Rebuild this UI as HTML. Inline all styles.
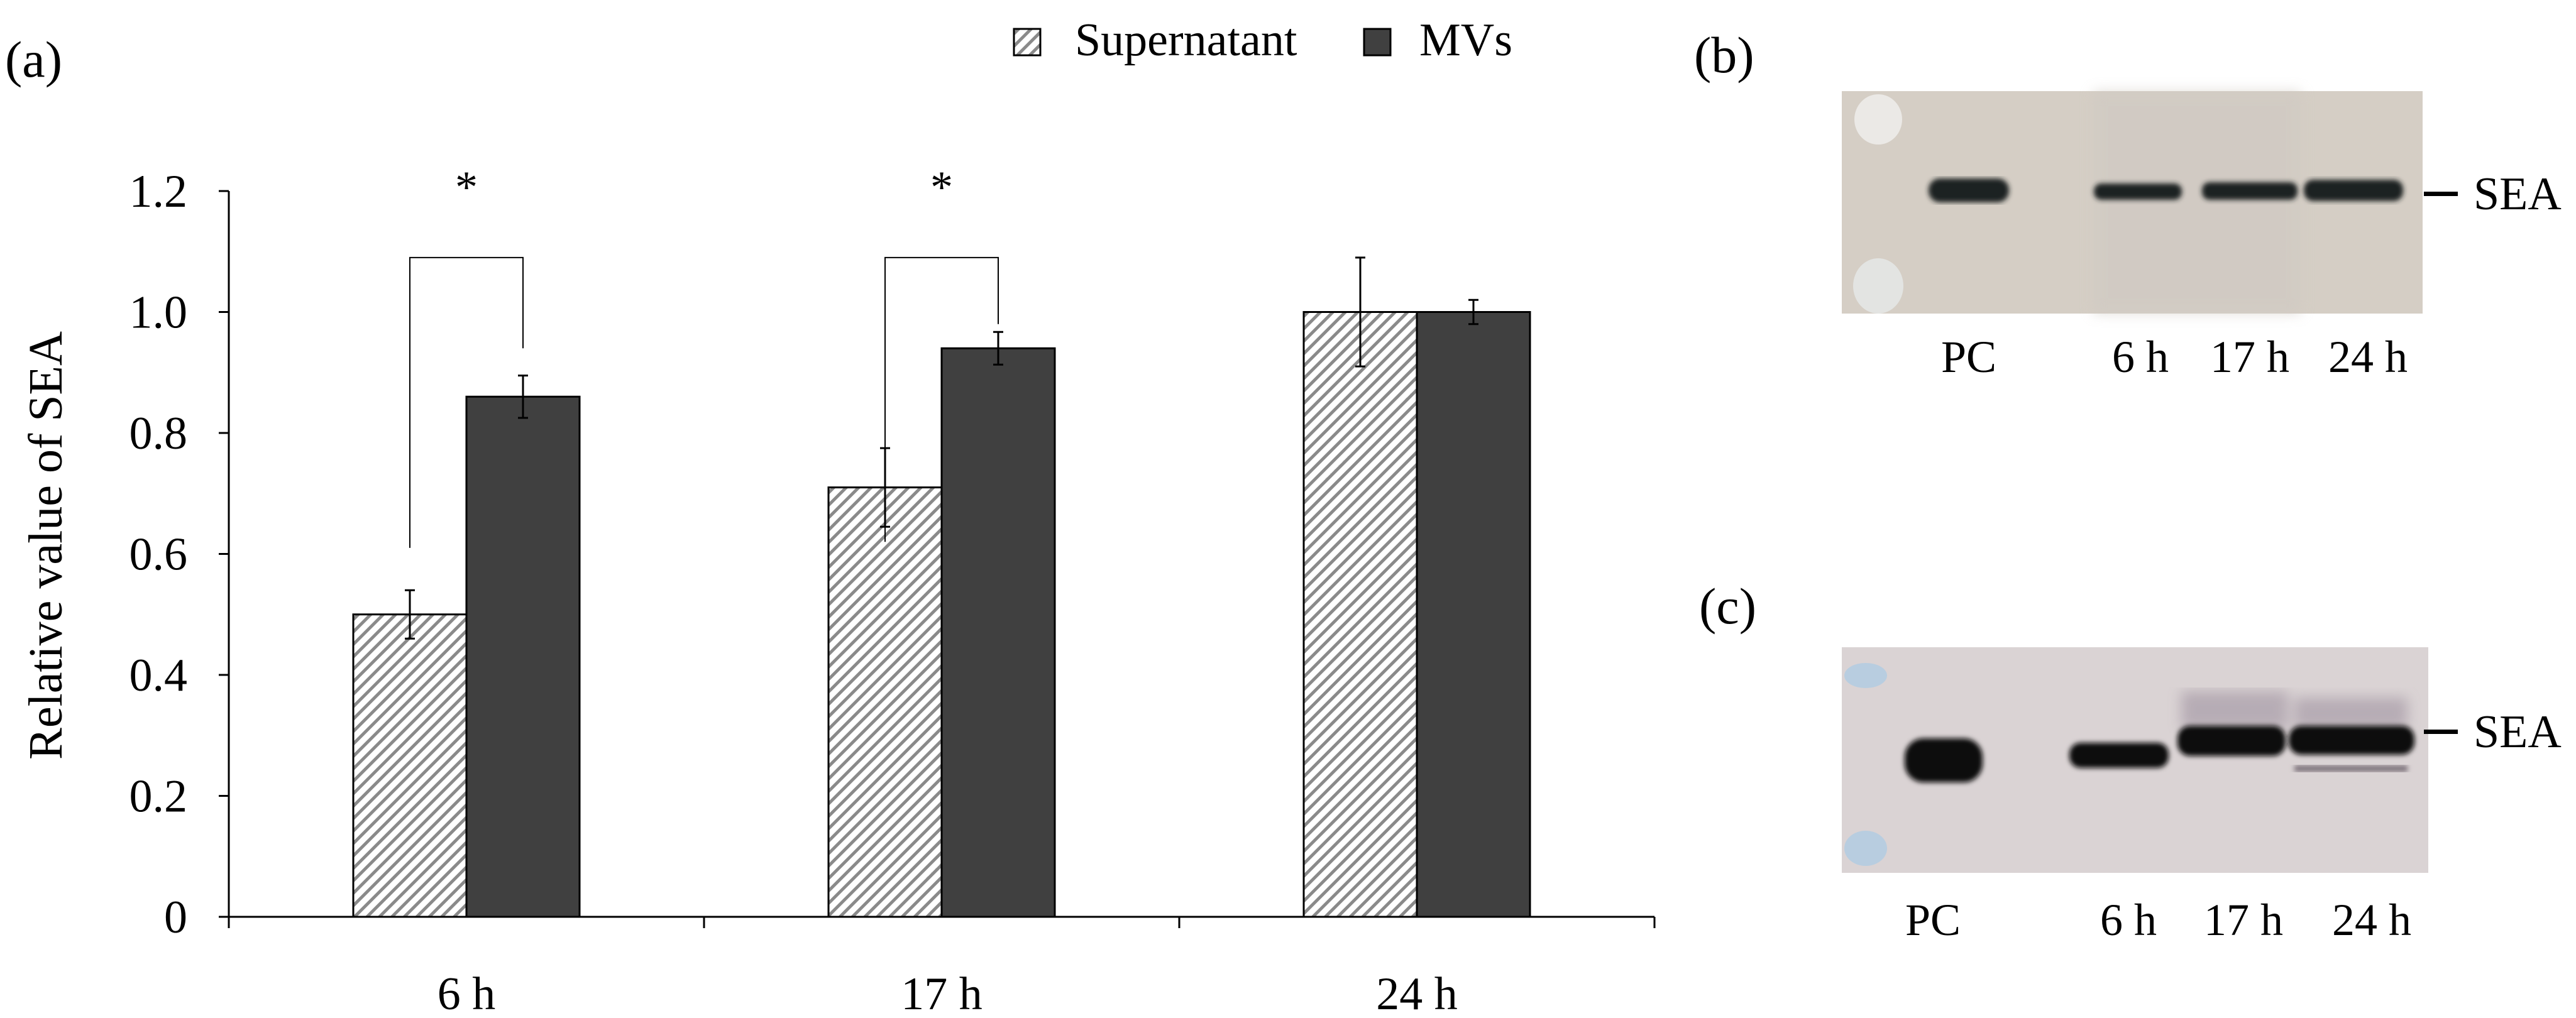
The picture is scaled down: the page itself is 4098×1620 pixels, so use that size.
<!DOCTYPE html>
<html><head><meta charset="utf-8"><style>
html,body{margin:0;padding:0;background:#fff;}
svg{display:block;font-family:"Liberation Serif",serif;}
</style></head><body>
<svg id="fig" width="4098" height="1620" viewBox="0 0 4098 1620" xmlns="http://www.w3.org/2000/svg">
<defs>
<pattern id="hatch" width="14" height="14" patternUnits="userSpaceOnUse" patternTransform="rotate(45)">
<rect width="14" height="14" fill="#fff"/>
<rect x="0" y="0" width="5" height="14" fill="#8a8a8a"/>
</pattern>
<filter id="blur3"><feGaussianBlur stdDeviation="4"/></filter>
<filter id="blur8"><feGaussianBlur stdDeviation="10"/></filter>
</defs>
<text x="8" y="122" font-size="82">(a)</text>
<g id="legend">
<rect x="1613" y="46" width="42" height="42" fill="url(#hatch)" stroke="#000" stroke-width="3"/>
<text x="1710" y="88" font-size="74">Supernatant</text>
<rect x="2170" y="46" width="42" height="42" fill="#404040" stroke="#000" stroke-width="3"/>
<text x="2258" y="88" font-size="74">MVs</text>
</g>
<g id="chart"></g>
<text transform="translate(98,868) rotate(-90)" text-anchor="middle" font-size="76">Relative value of SEA</text>

<!-- panel b -->
<text x="2695" y="115" font-size="82">(b)</text>
<g>
<rect x="2930" y="145" width="924" height="354" fill="#d5cec5"/>
<rect x="3330" y="145" width="330" height="354" fill="#cfc9c2" opacity="0.6" filter="url(#blur8)"/>
<ellipse cx="2988" cy="190" rx="38" ry="40" fill="#ebe9e6"/>
<ellipse cx="2988" cy="455" rx="40" ry="44" fill="#e3e4e2"/>
<g filter="url(#blur3)" fill="#1c2422">
<rect x="3068" y="284" width="128" height="38" rx="18"/>
<rect x="3331" y="292" width="140" height="26" rx="12"/>
<rect x="3503" y="290" width="152" height="28" rx="12"/>
<rect x="3665" y="286" width="158" height="34" rx="15"/>
</g>
</g>
<rect x="3856" y="305" width="54" height="7" fill="#000"/>
<text x="3935" y="333" font-size="74">SEA</text>
<g font-size="72" text-anchor="middle">
<text x="3132" y="592">PC</text><text x="3405" y="592">6 h</text><text x="3579" y="592">17 h</text><text x="3767" y="592">24 h</text>
</g>

<!-- panel c -->
<text x="2703" y="992" font-size="82">(c)</text>
<g>
<rect x="2930" y="1030" width="933" height="359" fill="#dad3d4"/>
<ellipse cx="2968" cy="1075" rx="34" ry="20" fill="#b8cde0"/>
<ellipse cx="2968" cy="1350" rx="34" ry="28" fill="#b8cde0"/>
<g filter="url(#blur8)" fill="#a89ca8" opacity="0.7">
<rect x="3470" y="1100" width="170" height="60"/>
<rect x="3650" y="1110" width="180" height="50"/>
</g>
<g filter="url(#blur3)" fill="#0a0a0a">
<rect x="3030" y="1175" width="124" height="70" rx="30"/>
<rect x="3292" y="1182" width="158" height="40" rx="18"/>
<rect x="3464" y="1155" width="172" height="48" rx="20"/>
<rect x="3641" y="1155" width="200" height="46" rx="20"/>
</g>
<rect x="3650" y="1218" width="180" height="10" fill="#7a6f78" filter="url(#blur3)"/>
</g>
<rect x="3856" y="1161" width="54" height="7" fill="#000"/>
<text x="3935" y="1189" font-size="74">SEA</text>
<g font-size="72" text-anchor="middle">
<text x="3075" y="1488">PC</text><text x="3386" y="1488">6 h</text><text x="3569" y="1488">17 h</text><text x="3773" y="1488">24 h</text>
</g>
</svg>
<script>
const categories = ["6 h", "17 h", "24 h"];
const supernatant = [0.50, 0.71, 1.00];
const supernatantErr = [0.04, 0.065, 0.09];
const mvs = [0.86, 0.94, 1.00];
const mvsErr = [0.035, 0.027, 0.02];
const yTicks = [0, 0.2, 0.4, 0.6, 0.8, 1.0, 1.2];
const yTickLabels = ["0", "0.2", "0.4", "0.6", "0.8", "1.0", "1.2"];
const sigBrackets = [[0, 0.61, 1.09, 0.94], [1, 0.62, 1.09, 0.98]];

const NS = "http://www.w3.org/2000/svg";
const g = document.getElementById("chart");
const X0 = 364, X1 = 2632, Y0 = 1459, YT = 304, YMAX = 1.2;
const y = v => Y0 - (v / YMAX) * (Y0 - YT);
const step = (X1 - X0) / categories.length;
const cx = i => X0 + step * (i + 0.5);
const BW = 180;
function mk(tag, attrs) { const e = document.createElementNS(NS, tag); for (const k in attrs) e.setAttribute(k, attrs[k]); g.appendChild(e); return e; }

let e = mk("line", {x1: X0, y1: Y0, x2: X0, y2: YT, stroke: "#000", "stroke-width": 3});


e = mk("line", {x1: X0, y1: Y0, x2: X1, y2: Y0, stroke: "#000", "stroke-width": 3});


yTicks.forEach((t, i) => {
  let tk = mk("line", {x1: X0 - 16, y1: y(t), x2: X0, y2: y(t), stroke: "#000", "stroke-width": 3});
  
  
  let lb = mk("text", {x: 298, y: y(t) + 25, "text-anchor": "end", "font-size": 74});
  lb.textContent = yTickLabels[i];
  
  
});
for (let i = 0; i <= categories.length; i++) {
  let tk = mk("line", {x1: X0 + step * i, y1: Y0, x2: X0 + step * i, y2: Y0 + 18, stroke: "#000", "stroke-width": 3});
  
  
}
function errBar(x, v, err) {
  let l = mk("path", {d: `M${x},${y(v + err)}V${y(v - err)}M${x - 8},${y(v + err)}h16M${x - 8},${y(v - err)}h16`, stroke: "#000", "stroke-width": 3, fill: "none"});
  
  
}
categories.forEach((c, i) => {
  const c0 = cx(i);
  let b1 = mk("rect", {x: c0 - BW, y: y(supernatant[i]), width: BW, height: Y0 - y(supernatant[i]), fill: "url(#hatch)", stroke: "#000", "stroke-width": 3});
  
  
  let b2 = mk("rect", {x: c0, y: y(mvs[i]), width: BW, height: Y0 - y(mvs[i]), fill: "#404040", stroke: "#000", "stroke-width": 3});
  
  
  errBar(c0 - BW / 2, supernatant[i], supernatantErr[i]);
  errBar(c0 + BW / 2, mvs[i], mvsErr[i]);
  let lb = mk("text", {x: c0, y: 1606, "text-anchor": "middle", "font-size": 74});
  lb.textContent = c;
  
  
});
sigBrackets.forEach(s => {
  const c0 = cx(s[0]);
  const xl = c0 - BW / 2, xr = c0 + BW / 2;
  let p = mk("path", {d: `M${xl},${y(s[1])}V${y(s[2])}H${xr}V${y(s[3])}`, stroke: "#000", "stroke-width": 2, fill: "none"});
  
  
  let t = mk("text", {x: c0, y: y(s[2]) - 88, "text-anchor": "middle", "font-size": 72});
  t.textContent = "*";
  
  
});
</script>
</body></html>
